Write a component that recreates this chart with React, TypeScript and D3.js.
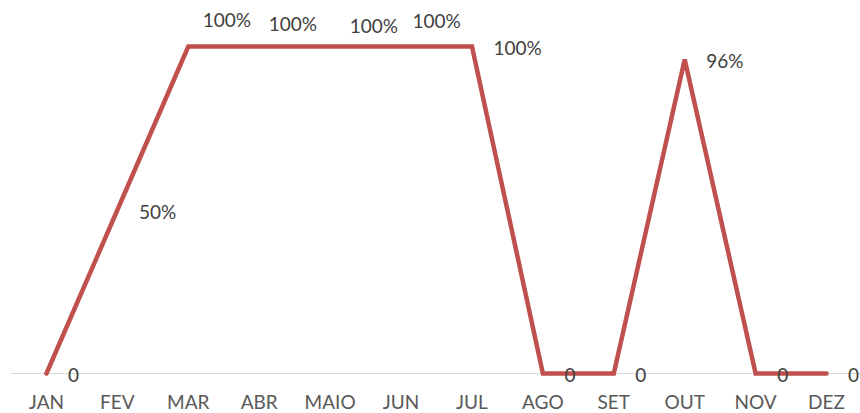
import React, { useRef, useEffect } from 'react';
import * as d3 from 'd3';

const months = ['JAN', 'FEV', 'MAR', 'ABR', 'MAIO', 'JUN', 'JUL', 'AGO', 'SET', 'OUT', 'NOV', 'DEZ'];
const values = [0, 0.5, 1, 1, 1, 1, 1, 0, 0, 0.96, 0, 0];
const valueLabels = ['0', '50%', '100%', '100%', '100%', '100%', '100%', '0', '0', '96%', '0', '0'];
// data label nudges (dx, dy) from default "right" placement, as moved by hand in the original
const labelNudges: [number, number][] = [
  [0, 0], [0, 0], [-7, -28], [-12, -24], [-2, -22], [-10, -27], [0, 0],
  [0, 0], [0, 0], [0, 0], [0, 0], [0, 0],
];

const WIDTH = 860;
const HEIGHT = 413;
const FONT = 'Lato, "Open Sans", sans-serif';
const TEXT_COLOR = '#404040';
const AXIS_TEXT_COLOR = '#595959';
const LINE_COLOR = '#c0504d';

export default function App() {
  const svgRef = useRef<SVGSVGElement>(null);

  useEffect(() => {
    const svg = d3.select(svgRef.current);
    svg.selectAll('*').remove();

    const x = d3.scaleBand<string>()
      .domain(months)
      .range([11, 862]);

    const y = d3.scaleLinear()
      .domain([0, 1])
      .range([373.5, 46.5]);

    const cx = (m: string) => (x(m) as number) + x.bandwidth() / 2;

    // Baseline axis
    svg.append('line')
      .attr('x1', 11)
      .attr('x2', WIDTH)
      .attr('y1', y(0))
      .attr('y2', y(0))
      .attr('stroke', '#d9d9d9')
      .attr('stroke-width', 1);

    // Category labels
    svg.append('g')
      .selectAll('text')
      .data(months)
      .enter()
      .append('text')
      .attr('x', d => cx(d))
      .attr('y', 409)
      .attr('text-anchor', 'middle')
      .attr('font-family', FONT)
      .attr('font-size', '19px')
      .attr('fill', AXIS_TEXT_COLOR)
      .text(d => d);

    // Line
    const line = d3.line<number>()
      .x((d, i) => cx(months[i]))
      .y(d => y(d));

    svg.append('path')
      .datum(values)
      .attr('d', line)
      .attr('fill', 'none')
      .attr('stroke', LINE_COLOR)
      .attr('stroke-width', 4.5)
      .attr('stroke-linecap', 'round')
      .attr('stroke-linejoin', 'miter');

    // Data labels
    svg.append('g')
      .selectAll('text')
      .data(values)
      .enter()
      .append('text')
      .attr('x', (d, i) => cx(months[i]) + 21.5 + labelNudges[i][0])
      .attr('y', (d, i) => y(d) + 8.5 + labelNudges[i][1])
      .attr('font-family', FONT)
      .attr('font-size', '19px')
      .attr('fill', TEXT_COLOR)
      .text((d, i) => valueLabels[i]);
  }, []);

  return (
    <svg
      ref={svgRef}
      width={WIDTH}
      height={HEIGHT}
      style={{ position: 'absolute', left: 0, top: 0, background: '#fff' }}
    />
  );
}
